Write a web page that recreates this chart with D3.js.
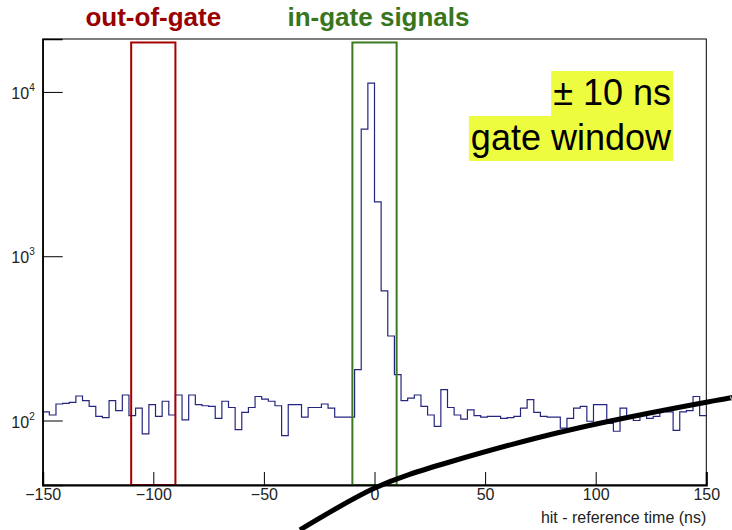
<!DOCTYPE html>
<html>
<head>
<meta charset="utf-8">
<script src="https://cdn.jsdelivr.net/npm/d3@7"></script>
<style>
  body { margin: 0; background: #fff; }
  text { font-family: "Liberation Sans", Arial, Helvetica, sans-serif; }
</style>
</head>
<body>
<script>
// histogram of hit - reference time, 3 ns bins from -150 to 150
var binStart = -150;
var binWidth = 3;
var counts = [
  113, 108, 126, 127, 129, 141, 132, 122, 106, 104,
  132, 115, 143, 107, 119, 83, 125, 106, 131, 108,
  143, 101, 143, 125, 123, 122, 103, 131, 120, 88,
  112, 120, 140, 135, 131, 123, 81, 125, 125, 105,
  120, 120, 126, 119, 105, 105, 105, 204, 5940, 11300,
  2140, 615, 327, 190, 132, 137, 143, 122, 108, 92,
  154, 120, 108, 102, 116, 107, 105, 106, 106, 103,
  104, 106, 119, 134, 112, 106, 105, 105, 90, 103,
  119, 122, 99, 125, 125, 96, 86, 119, 106, 100,
  108, 103, 106, 116, 113, 87, 113, 115, 140, 107
];

var xTicks = [-150, -100, -50, 0, 50, 100, 150];
var yTicks = [100, 1000, 10000];
var outGate = [-110, -90];
var inGate = [-10, 10];
var noteLines = ["\u00b1 10 ns", "gate window"];
// hand drawn arc, in (ns, counts)
var arcPts = [[-33.7, 21.6], [0.1, 38.8], [34.0, 55.9], [88.2, 87.6], [150.6, 129.6], [161.4, 137]];

var W = 732, H = 530;
var margin = {top: 39, bottom: 45, left: 42.7, right: 25.7};

var svg = d3.select("body").append("svg")
    .attr("width", W)
    .attr("height", H);

var x = d3.scaleLinear().domain([-150, 150]).range([margin.left, W - margin.right]);
var y = d3.scaleLog().domain([40.5, 21000]).range([H - margin.bottom, margin.top]);

// frame
svg.append("rect")
    .attr("x", x(-150)).attr("y", y(21000))
    .attr("width", x(150) - x(-150))
    .attr("height", y(40.5) - y(21000))
    .attr("fill", "none")
    .attr("stroke", "#000")
    .attr("stroke-width", 1);

// histogram outline
var steps = [];
counts.forEach(function(c, i) {
    var lo = binStart + i * binWidth;
    steps.push([lo, c]);
    steps.push([lo + binWidth, c]);
});
var line = d3.line()
    .x(function(d) { return x(d[0]); })
    .y(function(d) { return y(d[1]); });
svg.append("path")
    .datum(steps)
    .attr("d", line)
    .attr("fill", "none")
    .attr("stroke", "#25257f")
    .attr("stroke-width", 1.2);

// gate boxes
function gateBox(r, col) {
    svg.append("rect")
        .attr("x", x(r[0]))
        .attr("y", y(20000))
        .attr("width", x(r[1]) - x(r[0]))
        .attr("height", y(40.5) - y(20000))
        .attr("fill", "none")
        .attr("stroke", col)
        .attr("stroke-width", 2);
}
gateBox(outGate, "#a50000");
gateBox(inGate, "#3c7a22");

// x axis, ticks point inward
var xAxis = svg.append("g")
    .attr("transform", "translate(0," + y(40.5) + ")");
xAxis.call(d3.axisBottom(x).tickValues(d3.range(-150, 151, 10)).tickSize(-6.5).tickFormat(""));
xAxis.call(d3.axisBottom(x).tickValues(xTicks).tickSize(-13).tickPadding(4));
xAxis.selectAll(".domain").attr("stroke-width", 2);
xAxis.selectAll("text").attr("font-size", 16).attr("fill", "#222")
    .attr("font-family", "Liberation Sans, Arial, sans-serif");

svg.append("text")
    .attr("x", x(150))
    .attr("y", 523)
    .attr("text-anchor", "end")
    .attr("font-size", 16)
    .attr("fill", "#222")
    .text("hit - reference time (ns)");

// y axis
var minorY = [];
[10, 100, 1000, 10000].forEach(function(d) {
    for (var m = 2; m <= 9; m++) {
        var v = d * m;
        if (v > 40.5 && v < 21000) minorY.push(v);
    }
});
var yAxis = svg.append("g")
    .attr("transform", "translate(" + x(-150) + ",0)");
yAxis.call(d3.axisLeft(y).tickValues(minorY).tickSize(-10).tickFormat(""));
yAxis.call(d3.axisLeft(y).tickValues(yTicks).tickSize(-20).tickFormat(""));
yAxis.selectAll(".domain").attr("stroke-width", 1.5);

yTicks.forEach(function(v) {
    var t = svg.append("text")
        .attr("x", x(-150) - 8)
        .attr("y", y(v) + 7)
        .attr("text-anchor", "end")
        .attr("font-size", 16)
        .attr("fill", "#222");
    t.append("tspan").text("10");
    t.append("tspan")
        .attr("dy", -8)
        .attr("font-size", 10)
        .text(String(Math.round(Math.log10(v))));
});

// gate titles
svg.append("text")
    .attr("x", (x(outGate[0]) + x(outGate[1])) / 2)
    .attr("y", 26)
    .attr("text-anchor", "middle")
    .attr("font-size", 26)
    .attr("font-weight", "bold")
    .attr("fill", "#990000")
    .text("out-of-gate");

svg.append("text")
    .attr("x", (x(inGate[0]) + x(inGate[1])) / 2 + 4)
    .attr("y", 26)
    .attr("text-anchor", "middle")
    .attr("font-size", 26)
    .attr("font-weight", "bold")
    .attr("fill", "#38761d")
    .text("in-gate signals");

// highlighted note
var note = svg.append("g");
var noteRight = 671;
var noteBase = [105, 150];
noteLines.forEach(function(s, i) {
    var hl = note.append("rect").attr("fill", "#eefc3f");
    var t = note.append("text")
        .attr("x", noteRight)
        .attr("y", noteBase[i])
        .attr("text-anchor", "end")
        .attr("font-size", 36)
        .attr("fill", "#000")
        .text(s);
    var w = t.node().getComputedTextLength();
    hl.attr("x", noteRight - w - 2)
        .attr("y", noteBase[i] - 34)
        .attr("width", w + 4)
        .attr("height", 45);
});

// black arc drawn over the chart
svg.append("path")
    .datum(arcPts)
    .attr("d", d3.line()
        .x(function(d) { return x(d[0]); })
        .y(function(d) { return y(d[1]); })
        .curve(d3.curveNatural))
    .attr("fill", "none")
    .attr("stroke", "#000")
    .attr("stroke-width", 5);
</script>
</body>
</html>
